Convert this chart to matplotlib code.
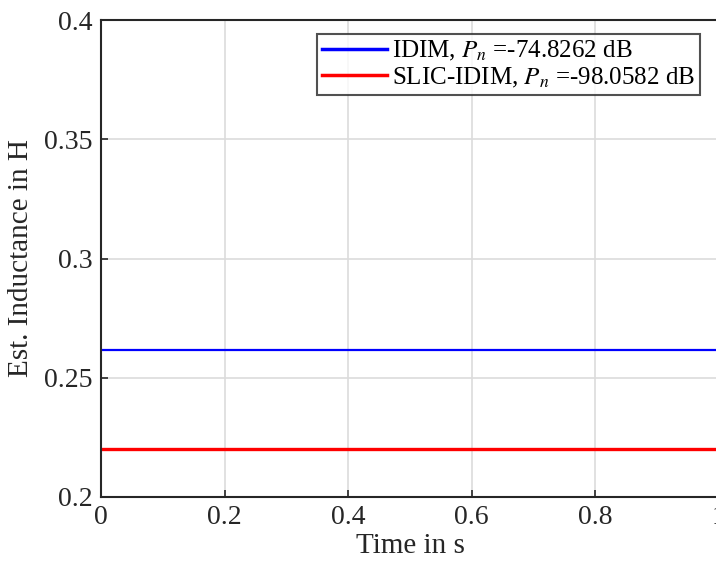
import numpy as np
import matplotlib.pyplot as plt

# estimated inductance (approximately flat over time)
time_s = [0.0, 0.25, 0.5, 0.75, 1.0]
idim_est = [0.2615, 0.2615, 0.2615, 0.2615, 0.2615]
slic_est = [0.2200, 0.2200, 0.2200, 0.2200, 0.2200]
labels = ['IDIM, $P_n$ =-74.8262 dB', 'SLIC-IDIM, $P_n$ =-98.0582 dB']

x_ticks = [0, 0.2, 0.4, 0.6, 0.8, 1]
y_ticks = [0.2, 0.25, 0.3, 0.35, 0.4]

plt.rcParams['font.family'] = ['Liberation Serif', 'DejaVu Serif']
plt.rcParams['mathtext.fontset'] = 'stix'

fig = plt.figure(figsize=(7.16, 5.67), dpi=100)
ax = fig.add_axes([101 / 716, 1 - 497 / 567, 618 / 716, 477 / 567])

ax.plot(time_s, idim_est, color='#0000ff', lw=1.6, label=labels[0])
ax.plot(time_s, slic_est, color='#ff0000', lw=2.4, label=labels[1])

ax.set_xlim(0, 1)
ax.set_ylim(0.2, 0.4)
ax.set_xticks(x_ticks)
ax.set_xticklabels(['0', '0.2', '0.4', '0.6', '0.8', '1'])
ax.set_yticks(y_ticks)
ax.set_yticklabels(['0.2', '0.25', '0.3', '0.35', '0.4'])
ax.tick_params(direction='in', length=5, width=1.2, labelsize=20, colors='#262626', pad=6)
ax.grid(True, color='#dcdcdc', lw=1.2)
ax.set_axisbelow(True)
for s in ax.spines.values():
    s.set_linewidth(1.5)
    s.set_color('#262626')

ax.set_xlabel('Time in s', fontsize=21, color='#262626', labelpad=2)
ax.set_ylabel('Est. Inductance in H', fontsize=21, color='#262626')
ax.yaxis.set_label_coords(-0.108, 0.5)

leg = ax.legend(loc='upper right', bbox_to_anchor=((700 - 101) / 618, 1 - 14 / 477),
                fontsize=18, frameon=True, fancybox=False, handlelength=2.6,
                handletextpad=0.2, borderpad=0.2, labelspacing=0.1, borderaxespad=0)
leg.get_frame().set_edgecolor('#262626')
leg.get_frame().set_linewidth(1.5)
for line in leg.get_lines():
    line.set_linewidth(2.5)

fig.savefig('out.png', dpi=100)
